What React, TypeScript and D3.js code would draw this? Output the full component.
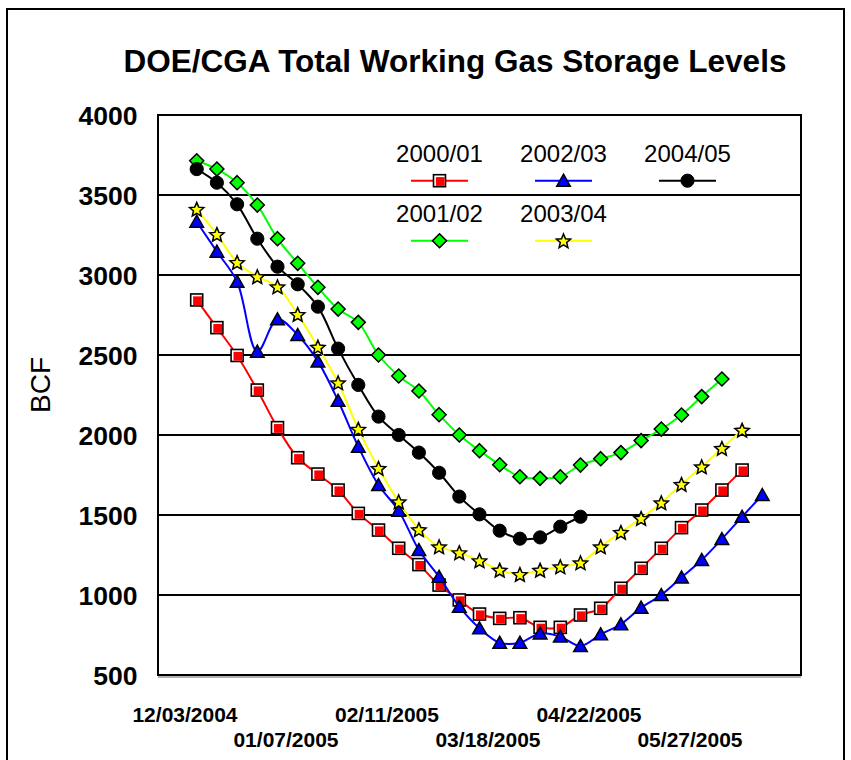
import React from "react";
import * as d3 from "d3";

const title = "DOE/CGA Total Working Gas Storage Levels";
const yTicks = [500, 1000, 1500, 2000, 2500, 3000, 3500, 4000];
const xTickLabels = ["12/03/2004", "01/07/2005", "02/11/2005", "03/18/2005", "04/22/2005", "05/27/2005"];
const xTickIndex = [0, 5, 10, 15, 20, 25];

const s2000 = [2844, 2671, 2497, 2281, 2046, 1858, 1756, 1656, 1510, 1406, 1292, 1190, 1062, 969, 881, 854, 858, 798, 798, 875, 917, 1042, 1167, 1292, 1421, 1531, 1656, 1781];
const s2001 = [3714, 3662, 3577, 3437, 3227, 3073, 2923, 2787, 2704, 2500, 2369, 2275, 2127, 2000, 1902, 1814, 1739, 1729, 1739, 1812, 1852, 1890, 1965, 2037, 2125, 2240, 2350];
const s2002 = [3333, 3146, 2958, 2521, 2723, 2625, 2460, 2214, 1927, 1687, 1527, 1281, 1114, 927, 792, 702, 702, 760, 740, 681, 754, 817, 921, 1000, 1110, 1219, 1350, 1489, 1625];
const s2003 = [3412, 3254, 3079, 2990, 2927, 2754, 2550, 2327, 2037, 1792, 1583, 1409, 1302, 1265, 1215, 1156, 1129, 1156, 1177, 1202, 1302, 1392, 1479, 1577, 1692, 1802, 1917, 2031];
const s2004 = [3662, 3577, 3442, 3227, 3052, 2942, 2802, 2540, 2313, 2115, 2000, 1890, 1764, 1615, 1504, 1402, 1352, 1360, 1427, 1489];

const seriesNames = ["2000/01", "2001/02", "2002/03", "2003/04", "2004/05"];
const seriesValues = [s2000, s2001, s2002, s2003, s2004];
const seriesColors = ["#FF0000", "#00FF00", "#0000FF", "#FFFF00", "#000000"];
const seriesMarkers = ["square", "diamond", "triangle", "star", "circle"];

const FONT = "'Liberation Sans', Arial, Helvetica, sans-serif";

const xScale = d3.scaleLinear().domain([0, 28]).range([196.7, 762.3]);
const yScale = d3.scaleLinear().domain([500, 4000]).range([675, 115]);

const starPath = (() => {
  const pts: [number, number][] = [];
  for (let i = 0; i < 10; i++) {
    const r = i % 2 === 0 ? 7.5 : 3.4;
    const a = -Math.PI / 2 + (i * Math.PI) / 5;
    pts.push([r * Math.cos(a), r * Math.sin(a) + 0.8]);
  }
  return d3.line()(pts) + "Z";
})();

function Marker({ kind, x, y, color }: { kind: string; x: number; y: number; color: string }) {
  if (kind === "square") {
    return (
      <g transform={`translate(${x},${y})`}>
        <rect x={-6} y={-6} width={12} height={12} fill="#fff" stroke="#000" strokeWidth={1.6} />
        <rect x={-3.6} y={-3.6} width={8.8} height={8.8} fill={color} />
      </g>
    );
  }
  if (kind === "diamond") {
    return (
      <path
        transform={`translate(${x},${y})`}
        d="M0,-7L7,0L0,7L-7,0Z"
        fill={color}
        stroke="#000"
        strokeWidth={1.5}
      />
    );
  }
  if (kind === "triangle") {
    return (
      <path
        transform={`translate(${x},${y})`}
        d="M0,-6.5L6.8,5.5L-6.8,5.5Z"
        fill={color}
        stroke="#000"
        strokeWidth={1.5}
        strokeLinejoin="miter"
      />
    );
  }
  if (kind === "star") {
    return (
      <path transform={`translate(${x},${y})`} d={starPath} fill={color} stroke="#000" strokeWidth={1.5} />
    );
  }
  return <circle cx={x} cy={y} r={6.6} fill={color} stroke="#000" strokeWidth={1} />;
}

const legendCols = [439.5, 563.5, 687.5];
const legendRows = [162, 222];

export default function App() {
  const lineGen = d3
    .line<number>()
    .x((_, i) => xScale(i))
    .y((d) => yScale(d))
    .curve(d3.curveCatmullRom.alpha(0.5));

  const plotL = 158;
  const plotR = 801;
  const plotT = yScale(4000);
  const plotB = yScale(500);

  return (
    <svg
      width={851}
      height={760}
      style={{ position: "absolute", left: 0, top: 0, background: "#fff" }}
      fontFamily={FONT}
    >
      <rect x={0} y={0} width={851} height={760} fill="#fff" />
      <rect x={7} y={9} width={837} height={800} fill="none" stroke="#000" strokeWidth={2} />

      <text x={455} y={72} textAnchor="middle" fontSize={31.5} fontWeight="bold" fill="#000">
        {title}
      </text>

      {/* gridlines */}
      {yTicks.map((t) => (
        <line key={t} x1={plotL} x2={plotR} y1={yScale(t)} y2={yScale(t)} stroke="#000" strokeWidth={2} />
      ))}
      <line x1={plotL} x2={plotR} y1={plotB + 2} y2={plotB + 2} stroke="#999" strokeWidth={1.5} />
      <line x1={plotL} x2={plotL} y1={plotT - 1} y2={plotB + 1} stroke="#000" strokeWidth={2} />
      <line x1={plotR} x2={plotR} y1={plotT - 1} y2={plotB + 1} stroke="#000" strokeWidth={2} />

      {/* y tick labels */}
      {yTicks.map((t) => (
        <text key={t} x={137.5} y={yScale(t) + 9.5} textAnchor="end" fontSize={26.5} fontWeight="bold" fill="#000">
          {t}
        </text>
      ))}

      <text
        transform="translate(50,385) rotate(-90)"
        textAnchor="middle"
        fontSize={28}
        fill="#000"
      >
        BCF
      </text>

      {/* x tick labels */}
      {xTickLabels.map((lab, k) => (
        <text
          key={lab}
          x={xScale(xTickIndex[k]) - 11.7}
          y={k % 2 === 0 ? 722 : 747}
          textAnchor="middle"
          fontSize={21}
          fontWeight="bold"
          fill="#000"
        >
          {lab}
        </text>
      ))}

      {/* series */}
      {seriesValues.map((vals, si) => (
        <g key={seriesNames[si]}>
          <path d={lineGen(vals) || ""} fill="none" stroke={seriesColors[si]} strokeWidth={2} />
          {vals.map((v, i) => (
            <Marker key={i} kind={seriesMarkers[si]} x={xScale(i)} y={yScale(v)} color={seriesColors[si]} />
          ))}
        </g>
      ))}

      {/* legend */}
      {seriesNames.map((name, si) => {
        const col = Math.floor(si / 2);
        const row = si % 2;
        const cx = legendCols[col];
        const by = legendRows[row];
        const ly = by + 18.7;
        return (
          <g key={name}>
            <text x={cx} y={by} textAnchor="middle" fontSize={24} fill="#000">
              {name}
            </text>
            <line x1={cx - 28.5} x2={cx + 28.5} y1={ly} y2={ly} stroke={seriesColors[si]} strokeWidth={2} />
            <Marker kind={seriesMarkers[si]} x={cx} y={ly} color={seriesColors[si]} />
          </g>
        );
      })}
    </svg>
  );
}
